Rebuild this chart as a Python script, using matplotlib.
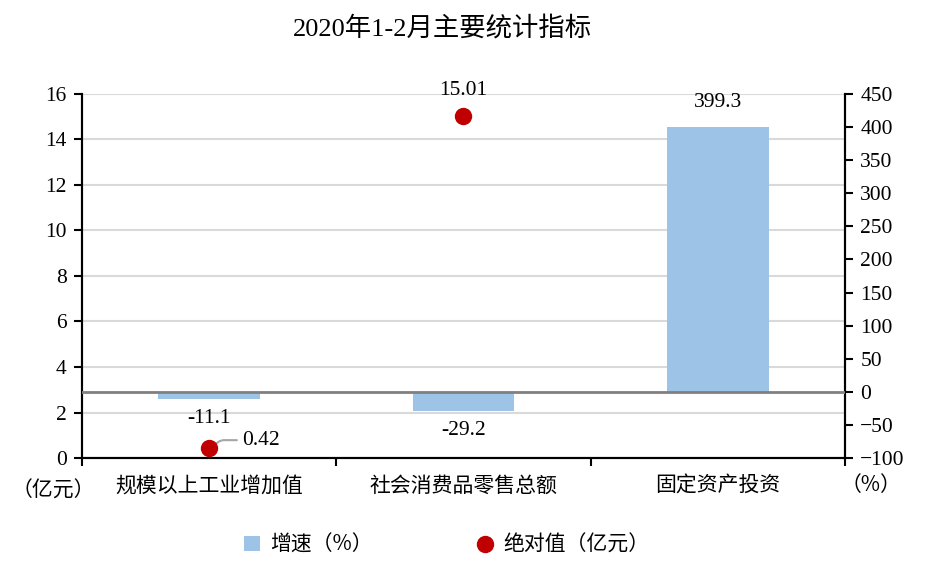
import matplotlib.pyplot as plt
from matplotlib.patches import Patch
from matplotlib.lines import Line2D
import numpy as np

plt.rcParams['font.family'] = ['Liberation Serif', 'Noto Sans CJK SC']

categories = ['规模以上工业增加值', '社会消费品零售总额', '固定资产投资']
growth = [-11.1, -29.2, 399.3]          # 增速 (%), right axis
absolute = [0.42, 15.01, np.nan]        # 绝对值 (亿元), left axis
growth_labels = ['-11.1', '-29.2', '399.3']
absolute_labels = ['0.42', '15.01', '']

bar_color = '#9DC3E6'
dot_color = '#C00000'
cjk = ['Noto Sans CJK SC']
num_size = 15.5

fig = plt.figure(figsize=(9.31, 5.69), dpi=100)
ax = fig.add_axes([0.088, 0.195, 0.8196, 0.640])
ax2 = ax.twinx()

x = np.arange(len(categories))

# left axis: absolute values
ax.set_xlim(-0.5, 2.5)
ax.set_ylim(0, 16)
ax.set_yticks(np.arange(0, 17, 2))
ax.grid(axis='y', color='#D9D9D9', linewidth=1.5)
ax.set_axisbelow(True)
ax.tick_params(axis='y', direction='out', length=6, width=1.5, labelsize=num_size, pad=5)

# x ticks at category boundaries, labels at centres
ax.set_xticks([-0.5, 0.5, 1.5, 2.5])
ax.set_xticklabels([])
ax.tick_params(axis='x', which='major', direction='out', length=6, width=1.5)
ax.set_xticks(x, minor=True)
ax.set_xticklabels(categories, minor=True, fontsize=15, family=cjk)
ax.tick_params(axis='x', which='minor', length=0, pad=12)

# right axis: growth
ax2.set_ylim(-100, 450)
ax2.set_yticks(np.arange(-100, 451, 50))
ax2.set_yticklabels([str(v).replace('-', '\u2212') for v in range(-100, 451, 50)])
ax2.tick_params(axis='y', direction='out', length=6, width=1.5, labelsize=num_size, pad=5)

for a in (ax, ax2):
    a.spines['top'].set_visible(False)
    for s in ('left', 'right', 'bottom'):
        a.spines[s].set_linewidth(1.5)
        a.spines[s].set_color('black')

ax2.bar(x, growth, width=0.4, color=bar_color, zorder=2)
ax2.axhline(0, color='#808080', linewidth=2, zorder=3)

ax.plot(x, absolute, 'o', color=dot_color, markersize=11.5, zorder=5)

# bar labels
for xi, v, lab in zip(x, growth, growth_labels):
    if v >= 0:
        ax2.annotate(lab, (xi, v), xytext=(0, 11), textcoords='offset points',
                     ha='center', va='bottom', fontsize=num_size)
    else:
        ax2.annotate(lab, (xi, v), xytext=(0, -7), textcoords='offset points',
                     ha='center', va='top', fontsize=num_size)

# dot labels
ax.annotate(absolute_labels[0], (x[0], absolute[0]), xytext=(24, 6),
            textcoords='offset points', ha='left', va='center', fontsize=num_size,
            arrowprops=dict(arrowstyle='-', color='#A6A6A6', lw=1.5,
                            shrinkA=2, shrinkB=0,
                            connectionstyle='angle,angleA=0,angleB=35,rad=3'))
ax.annotate(absolute_labels[1], (x[1], absolute[1]), xytext=(0, 12),
            textcoords='offset points', ha='center', va='bottom', fontsize=num_size)

fig.text(0.475, 0.95, '2020年1-2月主要统计指标', ha='center', va='center', fontsize=19)
fig.text(0.057, 0.138, '（亿元）', ha='center', va='center', fontsize=15, family=cjk)
fig.text(0.935, 0.148, '（%）', ha='center', va='center', fontsize=15, family=cjk)

handles = [Patch(facecolor=bar_color, edgecolor='none'),
           Line2D([], [], marker='o', linestyle='none', color=dot_color, markersize=11.5)]
fig.legend(handles, ['增速（%）', '绝对值（亿元）'], loc='center', bbox_to_anchor=(0.48, 0.042),
           ncol=2, frameon=False, prop={'family': cjk, 'size': 15},
           columnspacing=5.0, handlelength=0.75, handleheight=0.75, handletextpad=0.5)

fig.savefig('out.png', dpi=100)
